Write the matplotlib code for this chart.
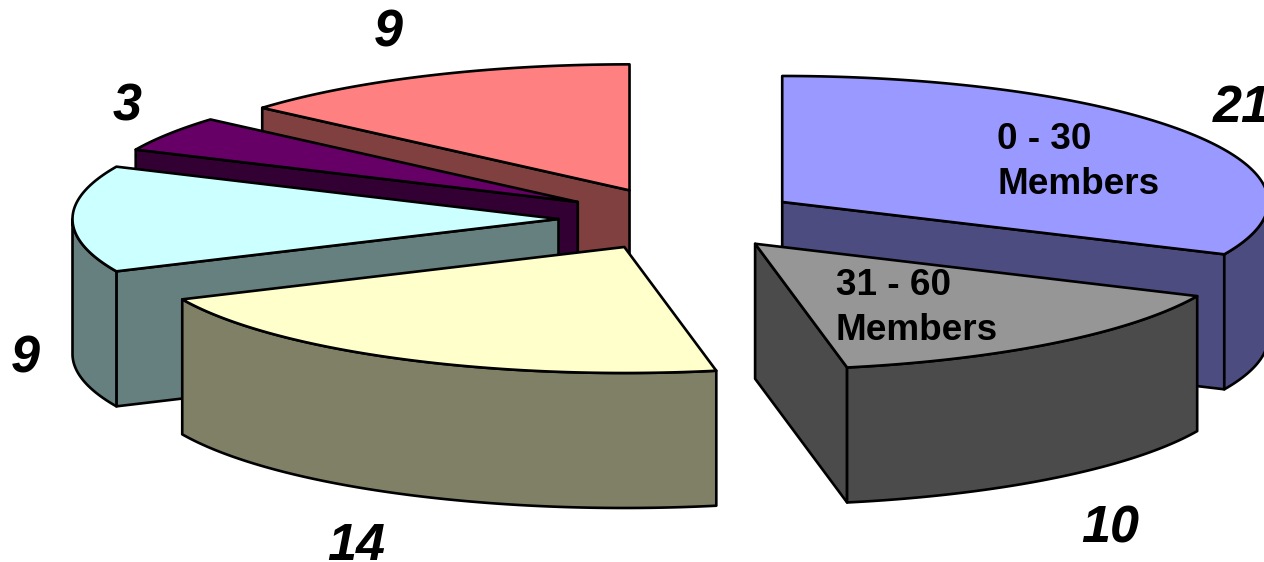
import numpy as np
import matplotlib
matplotlib.use('Agg')
import matplotlib.pyplot as plt
from matplotlib.patches import Polygon

plt.rcParams['font.family'] = ['Liberation Sans', 'DejaVu Sans']

# Member counts, clockwise from 12 o'clock
values = [21, 10, 14, 9, 3, 9]
value_labels = ['21', '10', '14', '9', '3', '9']
top_colors = ['#9999FF', '#969696', '#FFFFCC', '#CCFFFF', '#660066', '#FF8080']
side_colors = ['#4C4C80', '#4B4B4B', '#808066', '#668080', '#330033', '#804040']

# Pie geometry in pixels
cx, cy = 680, 219
rx, ry = 486, 126
depth = 135
explode = 0.25

label_pos = [(1242, 108), (1110, 529), (356, 547), (25, 359), (127, 107), (388, 33)]

fig = plt.figure(figsize=(12.64, 5.62), dpi=100)
ax = fig.add_axes([0, 0, 1, 1])
ax.set_xlim(0, 1264)
ax.set_ylim(562, 0)
ax.axis('off')


def rim(a, x0, y0):
    a = np.radians(a)
    return x0 + rx * np.sin(a), y0 - ry * np.cos(a)


def face(xs, ys, color, z):
    ax.add_patch(Polygon(np.column_stack([xs, ys]), closed=True, facecolor=color,
                         edgecolor='black', linewidth=1.9, joinstyle='round', zorder=z))


edges = np.concatenate([[0], np.cumsum(values) / np.sum(values) * 360])

# back slices first, so the nearer ones cover them
order = [5, 4, 3, 2, 0, 1]
for z, i in enumerate(order):
    a0, a1 = edges[i], edges[i + 1]
    mid = np.radians((a0 + a1) / 2)
    x0 = cx + explode * rx * np.sin(mid)
    y0 = cy - explode * ry * np.cos(mid)
    zz = z * 10

    # cut faces, only those turned to the viewer
    for a, show in ((a0, 180 < a0 < 360), (a1, 0 < a1 < 180)):
        if show:
            ex, ey = rim(a, x0, y0)
            face([x0, ex, ex, x0], [y0, ey, ey + depth, y0 + depth], side_colors[i], zz)

    # outer wall on the front half of the rim
    w0, w1 = max(a0, 90), min(a1, 270)
    if w1 > w0:
        t = np.linspace(w0, w1, 120)
        wx, wy = rim(t, x0, y0)
        face(np.concatenate([wx, wx[::-1]]), np.concatenate([wy, wy[::-1] + depth]),
             side_colors[i], zz + 1)

    # top
    t = np.linspace(a0, a1, 200)
    tx, ty = rim(t, x0, y0)
    face(np.concatenate([[x0], tx]), np.concatenate([[y0], ty]), top_colors[i], zz + 2)

for s, (lx, ly) in zip(value_labels, label_pos):
    ax.text(lx, ly, s, fontsize=37.5, fontweight='bold', fontstyle='italic',
            ha='center', va='center', zorder=100, clip_on=False)

ax.text(997, 162, '0 - 30\nMembers', fontsize=26.6, fontweight='bold', ha='left',
        va='center', linespacing=1.35, zorder=100)
ax.text(836, 308, '31 - 60\nMembers', fontsize=26.6, fontweight='bold', ha='left',
        va='center', linespacing=1.35, zorder=100)

fig.savefig('out.png', dpi=100, facecolor='white')
